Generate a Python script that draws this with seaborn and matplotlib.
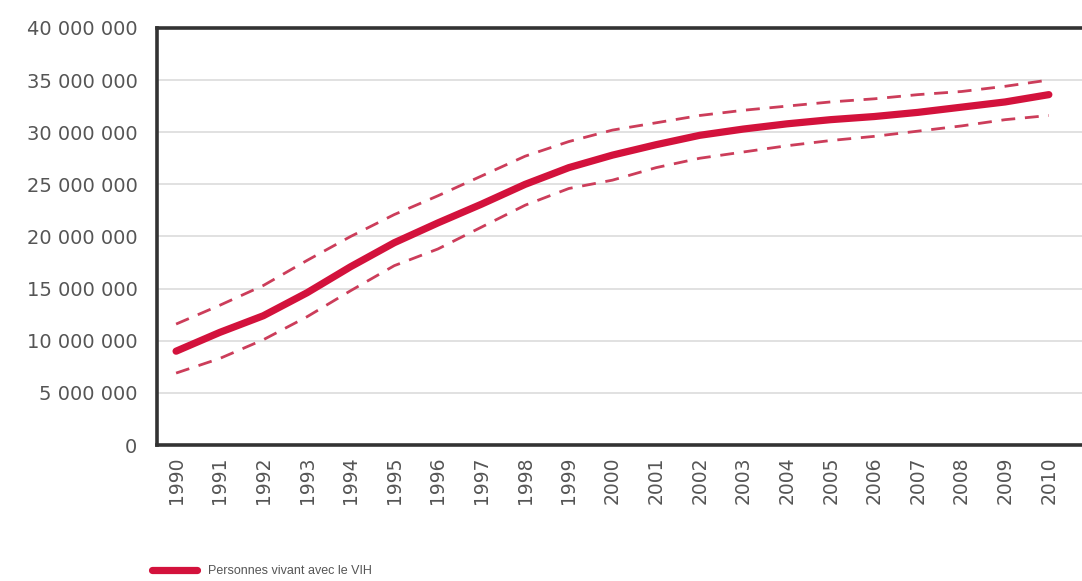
import matplotlib
matplotlib.use("Agg")
import matplotlib.pyplot as plt
import seaborn as sns
import pandas as pd
from matplotlib.ticker import FuncFormatter

# données (millions de personnes)
annees = list(range(1990, 2011))
estimation = [9.0, 10.8, 12.4, 14.6, 17.1, 19.4, 21.3, 23.1, 25.0, 26.6, 27.8,
              28.8, 29.7, 30.3, 30.8, 31.2, 31.5, 31.9, 32.4, 32.9, 33.6]
borne_haute = [11.6, 13.4, 15.3, 17.7, 20.0, 22.1, 23.9, 25.8, 27.7, 29.1, 30.2,
               30.9, 31.6, 32.1, 32.5, 32.9, 33.2, 33.6, 33.9, 34.4, 35.0]
borne_basse = [6.9, 8.3, 10.1, 12.3, 14.8, 17.2, 18.8, 20.9, 23.0, 24.6, 25.4,
               26.6, 27.5, 28.1, 28.7, 29.2, 29.6, 30.1, 30.6, 31.2, 31.6]

legende = "Personnes vivant avec le VIH"

rouge = "#d3123c"
rouge_clair = "#cc3d5a"
gris = "#555555"

df = pd.DataFrame({
    "annee": annees,
    "estimation": [v * 1e6 for v in estimation],
    "haute": [v * 1e6 for v in borne_haute],
    "basse": [v * 1e6 for v in borne_basse],
})

sns.set_style("white")
plt.rcParams["font.family"] = ["DejaVu Sans"]

fig = plt.figure(figsize=(10.82, 5.81), dpi=100)
ax = fig.add_axes([0.145, 0.234, 0.855, 0.718])

for col in ["haute", "basse"]:
    sns.lineplot(data=df, x="annee", y=col, ax=ax, color=rouge_clair,
                 linewidth=2.0, dashes=False, linestyle=(0, (5, 3.5)))
sns.lineplot(data=df, x="annee", y="estimation", ax=ax, color=rouge,
             linewidth=5.2, solid_capstyle="round", label=legende)

ax.set_xlim(1989.56, 2010.76)
ax.set_ylim(0, 40e6)
ax.set_xticks(annees)
ax.set_xticklabels([str(a) for a in annees], rotation=90, fontsize=13.5, color=gris)
ax.set_yticks(range(0, 40_000_001, 5_000_000))
ax.yaxis.set_major_formatter(FuncFormatter(lambda v, p: f"{int(v):,}".replace(",", " ")))
ax.tick_params(axis="y", labelsize=14, labelcolor=gris, length=0, pad=14)
ax.tick_params(axis="x", length=0, pad=8)
ax.set_xlabel("")
ax.set_ylabel("")

ax.grid(axis="y", color="#dcdcdc", linewidth=1.2)
ax.set_axisbelow(True)

for s in ["left", "bottom", "top"]:
    ax.spines[s].set_color("#333333")
    ax.spines[s].set_linewidth(2.6)
ax.spines["right"].set_visible(False)

ax.get_legend().remove()
handles, labels = ax.get_legend_handles_labels()
fig.legend(handles[-1:], labels[-1:], loc="center left",
           bbox_to_anchor=(0.13, 0.017), frameon=False,
           labelcolor=gris, handlelength=3.6, handletextpad=0.9,
           prop={"family": ["Liberation Sans", "DejaVu Sans"], "size": 9})

fig.savefig("out.png", dpi=100)
